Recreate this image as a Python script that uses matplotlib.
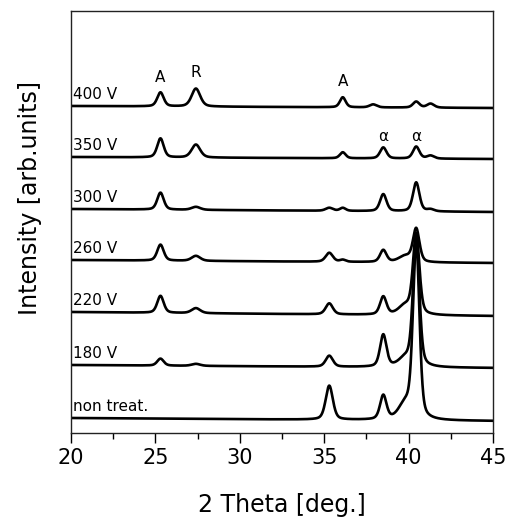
import numpy as np
import matplotlib
matplotlib.use("Agg")
import matplotlib.pyplot as plt
from matplotlib.ticker import MultipleLocator

# samples, top to bottom
samples = ["400 V", "350 V", "300 V", "260 V", "220 V", "180 V", "non treat."]

# baseline level of each pattern at 2theta=20 and 2theta=45 (arb. units)
base_left = [327, 276, 224, 173, 121, 68, 15]
base_right = [325, 274, 221, 170, 117, 65, 12]

# reflections seen in the patterns: position (deg) and width (FWHM, deg)
peak_pos = [25.3, 27.4, 35.3, 36.1, 37.9, 38.5, 39.8, 40.45, 41.3]
peak_fwhm = [0.45, 0.6, 0.5, 0.4, 0.5, 0.45, 0.9, 0.45, 0.5]

# peak heights for each sample (arb. units)
peak_h = {
    "400 V":      [14, 18, 0, 10, 3, 0, 0, 6, 4],
    "350 V":      [19, 13, 0, 6, 0, 11, 0, 12, 3],
    "300 V":      [17, 3, 3, 3, 0, 17, 0, 29, 2],
    "260 V":      [16, 5, 9, 2, 0, 12, 6, 33, 0],
    "220 V":      [17, 5, 11, 0, 0, 18, 9, 80, 0],
    "180 V":      [7, 2, 11, 0, 0, 32, 8, 128, 0],
    "non treat.": [0, 0, 34, 0, 0, 24, 15, 176, 0],
}

# phase markers above the patterns
mark_text = ["A", "R", "A", "\u03b1", "\u03b1"]
mark_x = [25.3, 27.4, 36.1, 38.5, 40.45]
mark_y = [355, 360, 351, 296, 296]


def pattern(tt, heights):
    y = np.zeros_like(tt)
    for x0, w, h in zip(peak_pos, peak_fwhm, heights):
        g = np.exp(-4 * np.log(2) * ((tt - x0) / w) ** 2)
        l = 1.0 / (1 + 4 * ((tt - x0) / w) ** 2)
        y += h * (0.6 * g + 0.4 * l)
    return y


tt = np.linspace(20, 45, 2000)

fig = plt.figure(figsize=(5.08, 5.21), dpi=100)
ax = fig.add_axes([71 / 508, 1 - 433 / 521, 422 / 508, 422 / 521])

for i, s in enumerate(samples):
    bg = np.interp(tt, [20, 45], [base_left[i], base_right[i]])
    ax.plot(tt, bg + pattern(tt, peak_h[s]), color="black", lw=1.9)
    ax.text(20.12, base_left[i] + 4, s, fontsize=11, ha="left", va="bottom")

for t, x, y in zip(mark_text, mark_x, mark_y):
    ax.text(x, y, t, fontsize=11, ha="center", va="center")

ax.set_xlim(20, 45)
ax.set_ylim(0, 422)
ax.xaxis.set_major_locator(MultipleLocator(5))
ax.xaxis.set_minor_locator(MultipleLocator(2.5))
ax.tick_params(axis="x", which="major", direction="out", length=7, width=1,
               labelsize=15, pad=4)
ax.tick_params(axis="x", which="minor", direction="out", length=4, width=1)
ax.set_yticks([])
for sp in ax.spines.values():
    sp.set_linewidth(1.0)
    sp.set_color("#222222")

ax.set_xlabel("2 Theta [deg.]", fontsize=17)
ax.xaxis.set_label_coords(0.5, -0.171)
ax.xaxis.label.set_va("center")
ax.set_ylabel("Intensity [arb.units]", fontsize=17)
ax.yaxis.set_label_coords(-0.097, 0.557)
ax.yaxis.label.set_va("center")

fig.savefig("out.png", dpi=100)
